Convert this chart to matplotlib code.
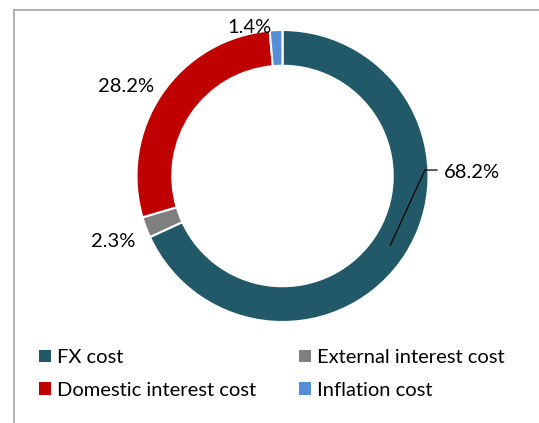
import numpy as np
import matplotlib
matplotlib.use("Agg")
import matplotlib.pyplot as plt
from matplotlib.patches import Patch
from matplotlib.lines import Line2D

categories = ["FX cost", "External interest cost", "Domestic interest cost", "Inflation cost"]
values = [68.2, 2.3, 28.2, 1.4]
labels = ["68.2%", "2.3%", "28.2%", "1.4%"]
colors = ["#215968", "#7f7f7f", "#c00000", "#558ed5"]

plt.rcParams['font.family'] = ['Lato', 'DejaVu Sans']

W, H = 539, 423
fig = plt.figure(figsize=(W / 100, H / 100), dpi=100)
fig.patch.set_facecolor("white")

cx, cy, R = 282.5, 176.0, 146.0
box = 400.0
ax = fig.add_axes([(cx - box / 2) / W, (H - cy - box / 2) / H, box / W, box / H])

width = 0.245
wedges, _ = ax.pie(values, colors=colors, startangle=90, counterclock=False,
                   radius=1.0, wedgeprops=dict(width=width, edgecolor="white", linewidth=1.5))
ax.set_xlim(-box / 2 / R, box / 2 / R)
ax.set_ylim(-box / 2 / R, box / 2 / R)
ax.set_aspect("equal")
ax.axis("off")

# label positions in data units
label_pos = [(1.295, 0.027), (-1.161, -0.452), (-1.072, 0.616), (-0.229, 1.014)]
for w, lab, (tx, ty) in zip(wedges, labels, label_pos):
    ax.text(tx, ty, lab, ha="center", va="center", fontsize=14.5, color="#000000")

# leader line for FX cost
w0 = wedges[0]
mid = np.deg2rad((w0.theta1 + w0.theta2) / 2)
rm = 1 - width / 2
ax.plot([rm * np.cos(mid), 0.976, 1.058], [rm * np.sin(mid), 0.041, 0.041],
        color="black", lw=0.9)

handles = [Patch(facecolor=c, edgecolor="none") for c in colors]
order = [0, 2, 1, 3]
leg = fig.legend([handles[i] for i in order], [categories[i] for i in order],
                 ncol=2, loc="upper left", bbox_to_anchor=(39 / W, 1 - 349 / H),
                 borderaxespad=0, borderpad=0,
                 frameon=False, fontsize=14.5, handlelength=0.6, handleheight=0.6,
                 handletextpad=0.3, columnspacing=2.14, labelspacing=0.78)

# chart frame (top and left edges visible)
fig.add_artist(Line2D([14 / W, 1.0], [1 - 10.5 / H, 1 - 10.5 / H], color="#a6a6a6", lw=1.2))
fig.add_artist(Line2D([14 / W, 14 / W], [0, 1 - 10.5 / H], color="#a6a6a6", lw=1.2))

fig.savefig("out.png", dpi=100, facecolor="white")
